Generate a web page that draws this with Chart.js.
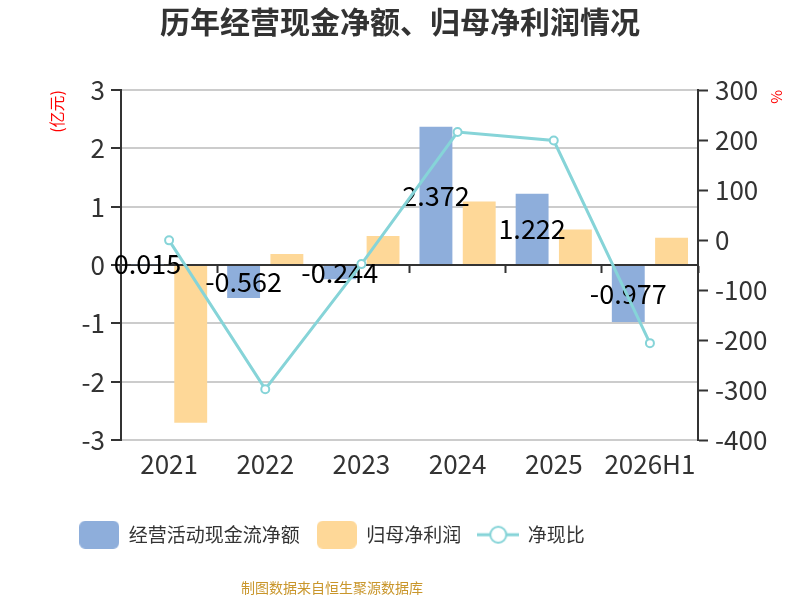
<!DOCTYPE html>
<html>
<head>
<meta charset="utf-8">
<script src="https://cdn.jsdelivr.net/npm/chart.js@4.4.0/dist/chart.umd.min.js"></script>
<style>
  html, body { margin: 0; padding: 0; background: #fff; }
  #wrap { width: 800px; height: 600px; }
</style>
</head>
<body>
<div id="wrap"><canvas id="chart"></canvas></div>
<script>
// data
const years = ["2021", "2022", "2023", "2024", "2025", "2026H1"];
const cashFlow = [0.015, -0.562, -0.244, 2.372, 1.222, -0.977];   // 经营活动现金流净额 (亿元)
const netProfit = [-2.70, 0.19, 0.50, 1.09, 0.61, 0.47];          // 归母净利润 (亿元)
const cashRatio = [-0.56, -298, -48, 216, 199, -206];             // 净现比 (%)
const leftRange = [-3, 3];
const rightRange = [-400, 300];

const FONT = "'Noto Sans CJK SC', 'Noto Sans', sans-serif";
const BLUE = "#8eaedb";
const ORANGE = "#fed898";
const TEAL = "#86d4d8";
const AXIS = "#333333";

// legend icons
function boxIcon(color) {
  const c = document.createElement("canvas");
  c.width = 40; c.height = 28;
  const g = c.getContext("2d");
  g.fillStyle = color;
  g.beginPath();
  g.roundRect(0, 0, 40, 28, 6);
  g.fill();
  return c;
}
function lineIcon(color) {
  const c = document.createElement("canvas");
  c.width = 42; c.height = 20;
  const g = c.getContext("2d");
  g.strokeStyle = color;
  g.lineWidth = 3;
  g.beginPath(); g.moveTo(0, 10); g.lineTo(42, 10); g.stroke();
  g.fillStyle = "#fff";
  g.lineWidth = 2;
  g.beginPath(); g.arc(21, 10, 8, 0, Math.PI * 2); g.fill(); g.stroke();
  return c;
}
const legendIcons = [boxIcon(BLUE), boxIcon(ORANGE), lineIcon(TEAL)];

// value labels in the middle of the cash flow bars
const barLabels = {
  id: "barLabels",
  afterDatasetDraw(chart, args) {
    if (args.index !== 0) return;
    const ctx = chart.ctx;
    ctx.save();
    ctx.font = "27px " + FONT;
    ctx.fillStyle = "#000";
    ctx.textAlign = "center";
    ctx.textBaseline = "middle";
    args.meta.data.forEach((el, i) => {
      ctx.fillText(String(cashFlow[i]), el.x, (el.y + el.base) / 2);
    });
    ctx.restore();
  }
};

// legend and footer sit left of centre in the original
const bottomShift = {
  id: "bottomShift",
  afterLayout(chart) {
    chart.boxes.forEach(b => {
      if (b.position === "bottom" && !b.axis) {
        b.left -= 68;
        b.right -= 68;
      }
    });
  }
};

new Chart(document.getElementById("chart"), {
  type: "bar",
  data: {
    labels: years,
    datasets: [
      {
        label: "经营活动现金流净额",
        data: cashFlow,
        backgroundColor: BLUE,
        yAxisID: "y",
        order: 1,
        categoryPercentage: 0.9,
        barPercentage: 0.76
      },
      {
        label: "归母净利润",
        data: netProfit,
        backgroundColor: ORANGE,
        yAxisID: "y",
        order: 1,
        categoryPercentage: 0.9,
        barPercentage: 0.76
      },
      {
        type: "line",
        label: "净现比",
        data: cashRatio,
        yAxisID: "y1",
        order: 0,
        borderColor: TEAL,
        borderWidth: 3,
        pointRadius: 4,
        pointBorderWidth: 2,
        pointBackgroundColor: "#fff",
        pointBorderColor: TEAL,
        tension: 0
      }
    ]
  },
  options: {
    responsive: true,
    maintainAspectRatio: false,
    animation: false,
    layout: { padding: { left: 10, right: 10, top: 0, bottom: 0 } },
    plugins: {
      title: {
        display: true,
        text: "历年经营现金净额、归母净利润情况",
        color: "#333",
        font: { family: FONT, size: 30, weight: "bold" },
        padding: { top: 4, bottom: 50 }
      },
      subtitle: {
        display: true,
        position: "bottom",
        text: "制图数据来自恒生聚源数据库",
        color: "#c9962b",
        font: { family: FONT, size: 14 },
        padding: { top: 25, bottom: 4 }
      },
      legend: {
        position: "bottom",
        labels: {
          color: "#333",
          font: { family: FONT, size: 19 },
          usePointStyle: true,
          pointStyleWidth: 40,
          padding: 17,
          generateLabels(chart) {
            const items = Chart.defaults.plugins.legend.labels.generateLabels(chart);
            items.sort((a, b) => a.datasetIndex - b.datasetIndex);
            items.forEach(it => { it.pointStyle = legendIcons[it.datasetIndex]; });
            return items;
          }
        }
      },
      tooltip: { enabled: false }
    },
    scales: {
      x: {
        position: "bottom",
        grid: { display: false },
        border: { display: false },
        ticks: {
          color: "#333", font: { family: FONT, size: 26 }, padding: 0,
          autoSkip: false, maxRotation: 0, minRotation: 0
        },
        afterFit(scale) { scale.height = 68; }
      },
      x0: {
        position: { y: 0 },
        labels: years,
        offset: true,
        grid: { drawOnChartArea: false, drawTicks: true, tickLength: 7, tickColor: AXIS, tickWidth: 2, offset: true },
        border: { color: AXIS, width: 2 },
        ticks: { display: false }
      },
      y: {
        position: "left",
        min: leftRange[0],
        max: leftRange[1],
        ticks: { stepSize: 1, color: "#333", font: { family: FONT, size: 26 }, padding: 6 },
        grid: { color: "#cccccc", lineWidth: 2, tickColor: AXIS, tickLength: 10, tickWidth: 2 },
        border: { color: AXIS, width: 2 },
        title: {
          display: true,
          text: "(亿元)",
          align: "end",
          color: "#ff0000",
          font: { family: FONT, size: 16 },
          padding: { top: 37, bottom: 10 }
        },
        afterFit(scale) { scale.width = 111; }
      },
      y1: {
        position: "right",
        min: rightRange[0],
        max: rightRange[1],
        ticks: { stepSize: 100, color: "#333", font: { family: FONT, size: 26 }, padding: 7 },
        grid: { drawOnChartArea: false, tickColor: AXIS, tickLength: 10, tickWidth: 2 },
        border: { color: AXIS, width: 2 },
        title: {
          display: true,
          text: "%",
          align: "end",
          color: "#ff0000",
          font: { family: FONT, size: 15 },
          padding: { top: 4, bottom: 2 }
        },
        afterFit(scale) { scale.width = 92; }
      }
    }
  },
  plugins: [barLabels, bottomShift]
});
</script>
</body>
</html>
